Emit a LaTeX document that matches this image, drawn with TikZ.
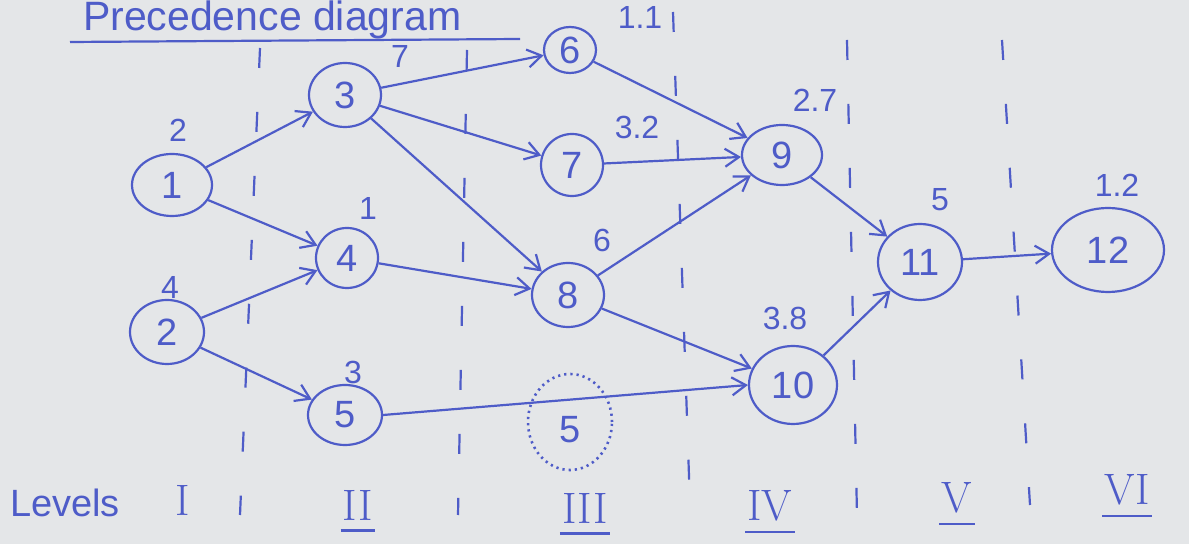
\documentclass[tikz,border=0pt]{standalone}
\usepackage{fontspec}
\setsansfont{Liberation Sans}
\usetikzlibrary{shapes.geometric,arrows.meta}
\definecolor{ink}{RGB}{78,92,200}
\definecolor{paper}{RGB}{228,230,232}
\tikzset{
  evt/.style={ellipse, draw=ink, line width=1.1pt, text=ink, inner sep=0pt,
     font=\sffamily\fontsize{19}{22}\selectfont},
  dur/.style={text=ink, font=\sffamily\fontsize{16}{19}\selectfont, inner sep=1pt},
  arr/.style={draw=ink, line width=1.1pt, -{Straight Barb[length=7pt,width=9pt]}},
  sep/.style={draw=ink, line width=1.1pt, dash pattern=on 10pt off 22pt},
  lvl/.style={text=ink, font=\rmfamily\fontsize{22}{26}\selectfont, inner sep=1pt},
  uline/.style={draw=ink, line width=1.1pt}
}
\begin{document}
\begin{tikzpicture}[x=0.5pt,y=-0.5pt]
\useasboundingbox (0,0) rectangle (1189,544);
\fill[paper] (0,0) rectangle (1189,544);

% title
\node[text=ink, font=\sffamily\fontsize{20.5}{24}\selectfont, anchor=base west] (title) at (76,31) {Precedence diagram};
\draw[uline] (70,42) -- (520,39);

% level separators
\coordinate (sA1) at (260,48); \coordinate (sA2) at (240,515);
\coordinate (sB1) at (467,50); \coordinate (sB2) at (458,515);
\coordinate (sC1) at (673,12); \coordinate (sC2) at (690,505);
\coordinate (sD1) at (847,40); \coordinate (sD2) at (857,515);
\coordinate (sE1) at (1002,40); \coordinate (sE2) at (1030,505);
\draw[sep] (sA1) -- (sA2);
\draw[sep] (sB1) -- (sB2);
\draw[sep] (sC1) -- (sC2);
\draw[sep] (sD1) -- (sD2);
\draw[sep] (sE1) -- (sE2);

% events
\node[evt, minimum width=40pt, minimum height=31pt] (n1) at (172,185) {1};
\node[evt, minimum width=37pt, minimum height=32pt] (n2) at (167,332) {2};
\node[evt, minimum width=36pt, minimum height=32pt] (n3) at (345,95) {3};
\node[evt, minimum width=31pt, minimum height=30pt] (n4) at (347,258) {4};
\node[evt, minimum width=37pt, minimum height=30pt] (n5) at (345,415) {5};
\node[evt, minimum width=26pt, minimum height=23pt] (n6) at (570,50) {6};
\node[evt, minimum width=31pt, minimum height=31pt] (n7) at (572,165) {7};
\node[evt, minimum width=36pt, minimum height=32pt] (n8) at (568,295) {8};
\node[evt, minimum width=40pt, minimum height=30pt] (n9) at (782,155) {9};
\node[evt, minimum width=44pt, minimum height=39pt] (n10) at (793,385) {10};
\node[evt, minimum width=42pt, minimum height=38pt] (n11) at (920,262) {11};
\node[evt, minimum width=56pt, minimum height=42pt] (n12) at (1108,250) {12};
\node[evt, draw=ink, dotted, line width=1.3pt, minimum width=42pt, minimum height=48pt] (d5) at (570,422) {};
\node[text=ink, font=\sffamily\fontsize{19}{22}\selectfont] (d5t) at (570,430) {5};

% durations
\node[dur] (l1) at (178,130) {2};
\node[dur] (l2) at (170,287) {4};
\node[dur] (l3) at (400,57) {7};
\node[dur] (l4) at (368,208) {1};
\node[dur] (l5) at (353,372) {3};
\node[dur] (l6) at (640,17) {1.1};
\node[dur] (l7) at (637,127) {3.2};
\node[dur] (l8) at (602,240) {6};
\node[dur] (l9) at (815,100) {2.7};
\node[dur] (l10) at (785,318) {3.8};
\node[dur] (l11) at (940,200) {5};
\node[dur] (l12) at (1117,185) {1.2};

% activities
\draw[arr] (n1) -- (n3);
\draw[arr] (n1) -- (n4);
\draw[arr] (n2) -- (n4);
\draw[arr] (n2) -- (n5);
\draw[arr] (n3) -- (n6);
\draw[arr] (n3) -- (n7);
\draw[arr] (n3) -- (n8);
\draw[arr] (n4) -- (n8);
\draw[arr] (n5.east) -- (n10.west);
\draw[arr] (n6) -- (n9);
\draw[arr] (n7) -- (n9);
\draw[arr] (n8) -- (n9);
\draw[arr] (n8) -- (n10);
\draw[arr] (n9) -- (n11);
\draw[arr] (n10) -- (n11);
\draw[arr] (n11) -- (n12);

% levels
\node[text=ink, font=\sffamily\fontsize{19}{22}\selectfont] (lv) at (65,503) {Levels};
\node[lvl] (v1) at (183,500) {I};
\node[lvl] (v2) at (358,505) {II};
\node[lvl] (v3) at (585,508) {III};
\node[lvl] (v4) at (770,506) {IV};
\node[lvl] (v5) at (957,498) {V};
\node[lvl] (v6) at (1127,490) {VI};
\draw[uline] ([yshift=-4pt]v2.south west) -- ([yshift=-4pt]v2.south east);
\draw[uline] ([yshift=-4pt]v3.south west) -- ([yshift=-4pt]v3.south east);
\draw[uline] ([yshift=-4pt]v4.south west) -- ([yshift=-4pt]v4.south east);
\draw[uline] ([yshift=-4pt]v5.south west) -- ([yshift=-4pt]v5.south east);
\draw[uline] ([yshift=-4pt]v6.south west) -- ([yshift=-4pt]v6.south east);
\end{tikzpicture}
\end{document}
